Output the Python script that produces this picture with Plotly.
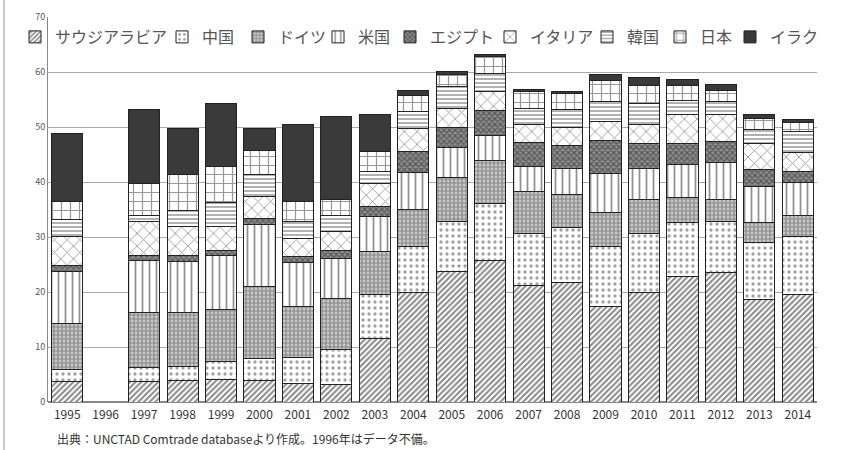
import plotly.graph_objects as go

years = ["1995","1996","1997","1998","1999","2000","2001","2002","2003","2004",
         "2005","2006","2007","2008","2009","2010","2011","2012","2013","2014"]

saudi   = [3.7, None, 3.8, 3.9, 4.1, 4.0, 3.4, 3.1, 11.6, 19.9, 23.7, 25.8, 21.1, 21.7, 17.3, 19.9, 22.9, 23.5, 18.7, 19.6]
china   = [2.2, None, 2.5, 2.5, 3.2, 3.9, 4.7, 6.4, 7.9, 8.3, 9.1, 10.3, 9.6, 10.1, 10.9, 10.8, 9.7, 9.3, 10.3, 10.5]
germany = [8.4, None, 9.9, 9.8, 9.5, 13.1, 9.2, 9.4, 7.8, 6.8, 8.1, 7.8, 7.5, 6.0, 6.3, 6.2, 4.6, 4.1, 3.6, 3.9]
usa     = [9.4, None, 9.6, 9.3, 9.9, 11.2, 8.0, 7.2, 6.4, 6.7, 5.4, 4.6, 4.6, 4.7, 7.1, 5.6, 5.9, 6.6, 6.5, 5.9]
egypt   = [1.2, None, 0.9, 1.2, 0.9, 1.2, 1.1, 1.5, 1.8, 3.8, 3.6, 4.5, 4.3, 4.2, 5.9, 4.5, 3.9, 3.8, 3.1, 2.1]
italy   = [5.2, None, 6.1, 5.2, 4.4, 3.9, 3.4, 3.4, 4.3, 4.3, 3.5, 3.4, 3.3, 3.2, 3.5, 3.4, 5.2, 4.9, 4.8, 3.3]
korea   = [3.0, None, 1.2, 3.0, 4.2, 4.0, 3.0, 3.0, 2.1, 3.0, 3.9, 3.4, 3.0, 3.2, 3.6, 3.9, 2.7, 2.4, 2.5, 3.8]
japan   = [3.3, None, 5.8, 6.4, 6.6, 4.5, 3.6, 2.9, 3.6, 3.0, 2.2, 3.0, 3.0, 3.0, 3.9, 3.3, 2.7, 2.1, 2.1, 1.7]
iraq    = [12.5, None, 13.3, 8.5, 11.4, 4.0, 14.0, 15.1, 6.7, 0.8, 0.6, 0.3, 0.5, 0.3, 1.1, 1.4, 1.1, 1.1, 0.6, 0.6]

names = ["サウジアラビア", "中国", "ドイツ", "米国", "エジプト", "イタリア", "韓国", "日本", "イラク"]
series = [saudi, china, germany, usa, egypt, italy, korea, japan, iraq]

# pixel x where each legend label's text starts in the reference
legend_text_x = [55, 202, 278, 358, 430, 530, 627, 700, 770]

styles = [
    dict(shape="/", fg="#111", bg="white", size=4, sol=0.5),
    dict(shape=".", fg="#444", bg="white", size=6, sol=0.25),
    dict(shape="+", fg="#444", bg="#c8c8c8", size=4, sol=0.5),
    dict(shape="|", fg="#222", bg="white", size=7, sol=0.25),
    dict(shape="x", fg="#222", bg="#8f8f8f", size=4, sol=0.55),
    dict(shape="x", fg="#444", bg="white", size=9, sol=0.2),
    dict(shape="-", fg="#222", bg="white", size=4, sol=0.35),
    dict(shape="+", fg="#333", bg="white", size=9, sol=0.25),
    None,
]

W, H = 845, 450
fig = go.Figure()
legend_layouts = {}
for i, (name, vals, st) in enumerate(zip(names, series, styles)):
    if st is None:
        marker = dict(color="#3a3a3a", line=dict(color="#222", width=1))
    else:
        marker = dict(color=st["bg"], line=dict(color="#222", width=1),
                      pattern=dict(shape=st["shape"], fgcolor=st["fg"], bgcolor=st["bg"],
                                   size=st["size"], solidity=st["sol"], fillmode="overlay"))
    lg = "legend" if i == 0 else f"legend{i+1}"
    fig.add_trace(go.Bar(x=years, y=vals, name=name, marker=marker, legend=lg, showlegend=True))
    legend_layouts[lg] = dict(
        orientation="h", xref="container", yref="container",
        x=(legend_text_x[i] - 40) / W, y=1 - 37 / H, xanchor="left", yanchor="middle",
        font=dict(size=16, color="#555"), bgcolor="rgba(255,255,255,0)",
        itemwidth=30)

fig.update_layout(
    showlegend=True,
    barmode="stack",
    bargap=0.19,
    width=W, height=H,
    margin=dict(l=48, r=28, t=17, b=48, autoexpand=False),
    paper_bgcolor="white", plot_bgcolor="white",
    font=dict(family="Noto Sans CJK JP", color="#333"),
    xaxis=dict(type="category", categoryorder="array", categoryarray=years,
               showline=False, ticks="", ticklabelstandoff=4,
               tickfont=dict(size=12, color="#333",
                             family="Liberation Sans Narrow, Noto Sans CJK JP")),
    yaxis=dict(range=[0, 70], dtick=10, showgrid=True, gridcolor="#aaaaaa", gridwidth=1,
               zeroline=True, zerolinecolor="#888", tickfont=dict(size=9, color="#555"),
               ticks="", showline=True, linecolor="#888"),
    annotations=[dict(text="出典：UNCTAD Comtrade databaseより作成。1996年はデータ不備。",
                      xref="paper", yref="paper", x=0.0, y=-0.094, xanchor="left", yanchor="middle",
                      showarrow=False, font=dict(size=12, color="#333"), xshift=7)],
    shapes=[dict(type="line", xref="paper", yref="paper", x0=-44 / 769, x1=-44 / 769,
                 y0=-0.13, y1=1.05, line=dict(color="#999", width=1))],
    **legend_layouts,
)
fig.write_html("out.html")
